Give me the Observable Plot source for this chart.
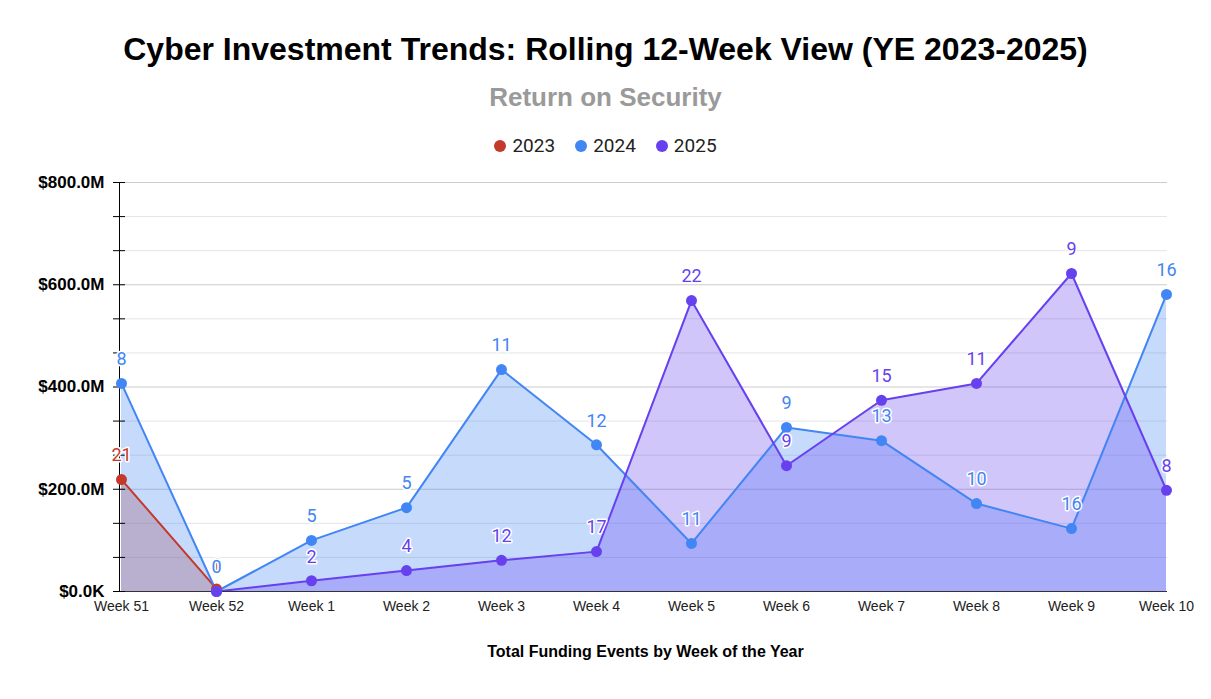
<!DOCTYPE html>
<html>
<head>
<meta charset="utf-8">
<script src="https://cdn.jsdelivr.net/npm/d3@7"></script>
<script src="https://cdn.jsdelivr.net/npm/@observablehq/plot@0.6"></script>
<style>
  body { margin: 0; background: #fff; }
  #wrap { position: relative; width: 1211px; height: 699px; overflow: hidden; background:#fff; }
  .title { position: absolute; left: 0; width: 1211px; text-align: center; top: 31px; line-height: 37px;
    font: bold 32px "Liberation Sans", Arial, sans-serif; color: #000; }
  .subtitle { position: absolute; left: 0; width: 1211px; text-align: center; top: 82px; line-height: 30px;
    font: bold 26px "Liberation Sans", Arial, sans-serif; color: #9a9a9a; }
  .legend { position: absolute; left: 0; width: 1211px; top: 134px; display: flex; justify-content: center; gap: 20px;
    font: 19px Roboto, sans-serif; color: #222; }
  .legend span { display: inline-flex; align-items: center; gap: 6px; }
  .legend i { display: inline-block; width: 12px; height: 12px; border-radius: 50%; }
  #chart { position: absolute; left: 0; top: 160px; }
  .xtitle { position: absolute; left: 40px; width: 1211px; text-align: center; top: 643px; line-height: 20px;
    font: bold 16px "Liberation Sans", Arial, sans-serif; color: #000; }
</style>
</head>
<body>
<div id="wrap">
  <div class="title">Cyber Investment Trends: Rolling 12-Week View (YE 2023-2025)</div>
  <div class="subtitle">Return on Security</div>
  <div class="legend" id="legend"></div>
  <div id="chart"></div>
  <div class="xtitle">Total Funding Events by Week of the Year</div>
</div>
<script>
const weeks = ["Week 51","Week 52","Week 1","Week 2","Week 3","Week 4","Week 5","Week 6","Week 7","Week 8","Week 9","Week 10"];
const seriesNames = ["2023","2024","2025"];
const seriesColors = ["#c5392b","#4285f4","#6741ee"];
// Funding amount ($M)
const funding2023 = [219, 5, null, null, null, null, null, null, null, null, null, null];
const funding2024 = [407, 0, 100, 164, 434, 287, 94, 321, 295, 172, 123, 581];
const funding2025 = [null, 0, 21, 41, 61, 78, 569, 246, 374, 407, 622, 198];
// Number of funding events (labels)
const events2023 = [21, 1, null, null, null, null, null, null, null, null, null, null];
const events2024 = [8, 0, 5, 5, 11, 12, 11, 9, 13, 10, 16, 16];
const events2025 = [null, 0, 2, 4, 12, 17, 22, 9, 15, 11, 9, 8];
const yLabelTicks = [0, 200, 400, 600, 800];

const fundings = [funding2023, funding2024, funding2025];
const events = [events2023, events2024, events2025];
const rows = [];
seriesNames.forEach((s, si) => {
  weeks.forEach((w, wi) => {
    if (fundings[si][wi] != null) rows.push({series: s, week: w, value: fundings[si][wi], events: events[si][wi]});
  });
});
const bySeries = s => rows.filter(d => d.series === s);
const minorTicks = d3.range(0, 13).map(i => i * 800 / 12);
const minorOnly = minorTicks.filter(v => !yLabelTicks.some(t => Math.abs(t - v) < 1e-6));

// legend
const leg = document.getElementById("legend");
seriesNames.forEach((s, i) => {
  const sp = document.createElement("span");
  sp.innerHTML = `<i style="background:${seriesColors[i]}"></i>${s}`;
  leg.appendChild(sp);
});

const color = d3.scaleOrdinal(seriesNames, seriesColors);
const labelOrder = ["2023", "2025", "2024"];

const plot = Plot.plot({
  width: 1211,
  height: 470,
  marginTop: 22,
  marginBottom: 39,
  marginLeft: 119,
  marginRight: 44,
  style: {fontFamily: "Liberation Sans, Arial, sans-serif", background: "transparent"},
  x: {type: "point", domain: weeks, padding: 0, label: null},
  y: {domain: [0, 800], label: null},
  marks: [
    Plot.ruleY(minorOnly, {stroke: "#e4e4e4", strokeWidth: 1}),
    Plot.ruleY(yLabelTicks.filter(d => d > 0), {stroke: "#cccccc", strokeWidth: 1}),
    ...seriesNames.map((s, i) => Plot.areaY(bySeries(s), {x: "week", y: "value", fill: seriesColors[i], fillOpacity: 0.3, curve: "linear"})),
    ...seriesNames.map((s, i) => Plot.lineY(bySeries(s), {x: "week", y: "value", stroke: seriesColors[i], strokeWidth: 2})),
    Plot.ruleY([0], {stroke: "#333", strokeWidth: 1}),
    Plot.frame({anchor: "left", stroke: "#000"}),
    Plot.axisY(minorTicks, {tickSize: 12, dx: 6, text: null, stroke: "#000"}),
    Plot.axisY(yLabelTicks, {tickSize: 0, tickPadding: 15, fontSize: 17, fontWeight: "bold", fill: "#000",
      tickFormat: d => d === 0 ? "$0.0K" : `$${d.toFixed(1)}M`}),
    Plot.axisX({tickSize: 0, tickPadding: 10, fontSize: 14, fill: "#222"}),
    ...seriesNames.map((s, i) => Plot.dot(bySeries(s), {x: "week", y: "value", fill: seriesColors[i], r: 5.5})),
    ...labelOrder.map(s => Plot.text(bySeries(s).filter(d => d.events != null), {
      x: "week", y: "value", text: d => String(d.events), dy: -24,
      fill: color(s), stroke: "white", strokeWidth: 3, fontSize: 18, fontFamily: "Roboto, sans-serif"
    }))
  ]
});
document.getElementById("chart").appendChild(plot);
</script>
</body>
</html>
